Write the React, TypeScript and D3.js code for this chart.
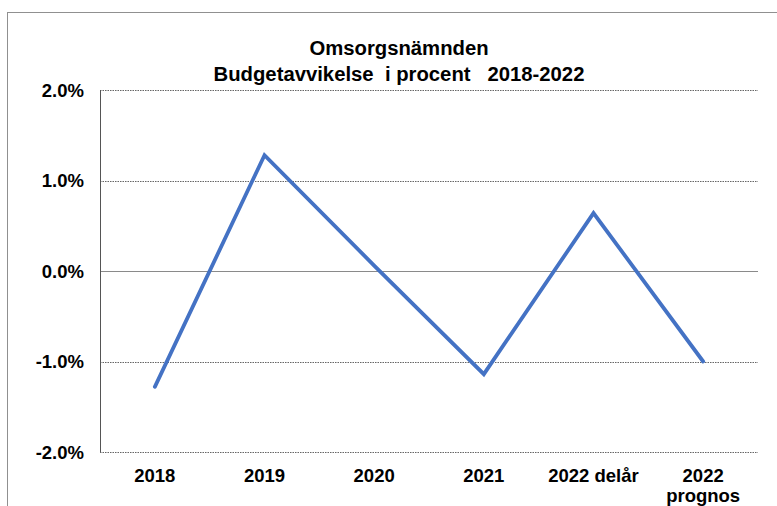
import React from "react";
import * as d3 from "d3";

const categories: string[][] = [["2018"], ["2019"], ["2020"], ["2021"], ["2022 delår"], ["2022", "prognos"]];
const values: number[] = [-1.28, 1.28, 0.06, -1.14, 0.64, -1.0];
const yTicks: number[] = [2, 1, 0, -1, -2];
const titleLines: string[] = ["Omsorgsnämnden", "Budgetavvikelse  i procent   2018-2022"];

const W = 777;
const H = 506;
const plot = { left: 100, right: 758, top: 90, bottom: 452 };

const locale = d3.formatLocale({
  decimal: ".",
  thousands: ",",
  grouping: [3],
  currency: ["", ""],
  minus: "-",
});
const fmt = locale.format(".1f");

export default function App() {
  const x = d3
    .scaleBand<number>()
    .domain(categories.map((_, i) => i))
    .range([plot.left, plot.right]);
  const y = d3.scaleLinear().domain([-2, 2]).range([plot.bottom, plot.top]);
  const line = d3
    .line<number>()
    .x((_, i) => (x(i) as number) + x.bandwidth() / 2)
    .y((d) => y(d));
  const font = "'Liberation Sans', Arial, sans-serif";

  return (
    <svg
      width={W}
      height={H}
      style={{ position: "absolute", left: 0, top: 0, background: "#fff" }}
      fontFamily={font}
    >
      <rect x={7.5} y={12.5} width={900} height={700} fill="#fff" stroke="#909090" strokeWidth={1} />
      {titleLines.map((t, i) => (
        <text
          key={i}
          x={399}
          y={55 + i * 26}
          textAnchor="middle"
          fontSize={20.3}
          fontWeight="bold"
          style={{ whiteSpace: "pre" }}
        >
          {t}
        </text>
      ))}
      {yTicks.map((t) => (
        <g key={t}>
          <line
            x1={plot.left}
            x2={plot.right}
            y1={Math.round(y(t)) + 0.5}
            y2={Math.round(y(t)) + 0.5}
            stroke={t === 0 ? "#8a8a8a" : "#666"}
            strokeWidth={1}
            strokeDasharray={t === 0 ? undefined : "1.5,1"}
          />
          <text
            x={84}
            y={y(t) + 6.5}
            textAnchor="end"
            fontSize={18.5}
            fontWeight="bold"
          >
            {fmt(t) + "%"}
          </text>
        </g>
      ))}
      <line
        x1={plot.left + 0.5}
        x2={plot.left + 0.5}
        y1={plot.top}
        y2={plot.bottom}
        stroke="#555"
        strokeWidth={1}
      />
      {categories.map((c, i) => (
        <text
          key={i}
          x={(x(i) as number) + x.bandwidth() / 2}
          y={481.5}
          textAnchor="middle"
          fontSize={18.5}
          fontWeight="bold"
        >
          {c.map((l, j) => (
            <tspan key={j} x={(x(i) as number) + x.bandwidth() / 2} dy={j === 0 ? 0 : 20}>
              {l}
            </tspan>
          ))}
        </text>
      ))}
      <path
        d={line(values) || ""}
        fill="none"
        stroke="#4472C4"
        strokeWidth={3.8}
        strokeLinejoin="miter"
        strokeLinecap="round"
      />
    </svg>
  );
}
